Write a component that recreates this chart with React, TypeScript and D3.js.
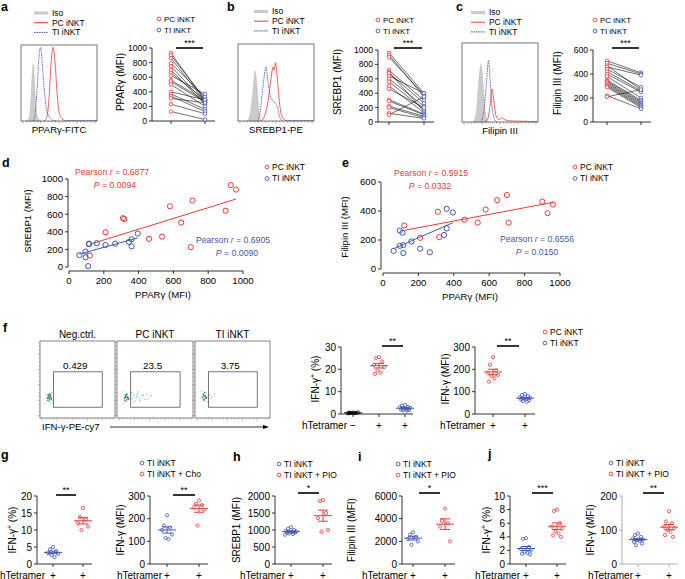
import React from 'react';
import * as d3 from 'd3';

const F = "'Liberation Sans', Arial, Helvetica, sans-serif";
const RED = '#ee3a34';
const BLUE = '#4257b8';
const GREY = '#cbcbcb';

type Pt = [number, number];

// ---------- histograms (position in px-units of box, % of mode) ----------
const histA_iso: Pt[] = [[5, 0], [8, 4], [10, 30], [11.5, 68], [12.5, 75], [13.5, 50], [15, 18], [17, 4], [20, 0]];
const histA_ti: Pt[] = [[12, 0], [14, 8], [16, 40], [18, 85], [19.5, 97], [21, 80], [23, 45], [25, 20], [28, 6], [32, 1], [36, 0]];
const histA_pc: Pt[] = [[23, 0], [26, 6], [28, 30], [30, 75], [32, 97], [34, 78], [36, 38], [38, 12], [41, 3], [45, 0]];
const histB_iso: Pt[] = [[9, 0], [12, 8], [15, 40], [17, 65], [19, 45], [21, 12], [23, 0]];
const histB_ti: Pt[] = [[19, 0], [22, 10], [25, 45], [28, 70], [30, 50], [33, 30], [36, 25], [39, 20], [41, 8], [44, 0]];
const histB_pc: Pt[] = [[23, 0], [27, 8], [30, 25], [33, 55], [35, 70], [36, 66], [37.5, 76], [39, 60], [41, 30], [43, 10], [46, 2], [50, 0]];
const histC_iso: Pt[] = [[11, 0], [14, 10], [17, 55], [19, 73], [21, 50], [23, 15], [26, 0]];
const histC_ti: Pt[] = [[19, 0], [22, 15], [24.5, 50], [26.5, 78], [28, 55], [30, 20], [32, 5], [35, 0]];
const histC_pc: Pt[] = [[23, 0], [26, 5], [28, 20], [30, 42], [32, 25], [34, 8], [37, 3], [40, 5], [43, 3], [47, 1.5], [60, 1], [74, 0.5]];

// ---------- paired scatter a-c ----------
const aPC = [930, 900, 860, 790, 750, 700, 660, 620, 560, 540, 500, 400, 370, 340, 310, 230, 130];
const aTI = [280, 300, 270, 330, 250, 230, 290, 370, 280, 260, 200, 290, 160, 130, 250, 100, 20];
const bPC = [960, 930, 900, 720, 690, 680, 640, 600, 560, 500, 460, 310, 290, 220, 200, 120, 100];
const bTI = [400, 350, 380, 300, 150, 260, 400, 220, 170, 130, 200, 110, 100, 80, 60, 50, 350];
const cPC = [510, 490, 470, 460, 440, 420, 400, 380, 350, 340, 330, 320, 310, 300, 290, 220, 210];
const cTI = [410, 400, 270, 390, 290, 260, 250, 200, 180, 170, 160, 150, 140, 130, 120, 110, 270];

// ---------- correlations d, e ----------
const pcPPARg = [120, 210, 310, 318, 460, 535, 580, 645, 700, 710, 900, 930, 960];
const pcSREBP1 = [130, 395, 555, 545, 320, 345, 690, 505, 225, 755, 640, 930, 880];
const pcFilipin = [300, 215, 395, 220, 340, 320, 410, 475, 510, 320, 465, 385, 445];
const tiPPARg = [60, 95, 95, 110, 115, 115, 160, 210, 265, 345, 360, 360, 395];
const tiSREBP1 = [135, 110, 175, 10, 265, 260, 270, 250, 265, 285, 315, 235, 380];
const tiFilipin = [125, 265, 160, 250, 165, 110, 190, 140, 115, 235, 415, 280, 390];

// ---------- flow plots f ----------
const flowNegCore: Pt[] = [[10, 26], [12, 28], [13, 24], [11, 30], [14, 27], [12, 22], [13, 31], [15, 25], [10, 23], [11, 27], [14, 30], [12, 25]];
const flowNegSpread: Pt[] = [[8, 20], [16, 33], [9, 31], [17, 22], [15, 19]];
const flowPCCore: Pt[] = [[10, 26], [12, 28], [13, 24], [11, 30], [14, 27], [12, 22], [13, 31], [15, 25], [10, 23], [11, 27]];
const flowPCSpread: Pt[] = [[18, 28], [20, 25], [22, 30], [25, 27], [27, 32], [30, 26], [33, 29], [36, 24], [39, 31], [42, 27], [45, 29], [24, 22], [28, 34], [35, 30], [19, 33], [21, 21], [31, 23], [26, 29], [17, 24], [40, 24], [8, 34], [9, 19]];
const flowTICore: Pt[] = [[10, 27], [12, 29], [13, 25], [11, 31], [14, 28], [12, 23], [13, 33], [15, 26], [11, 24]];
const flowTISpread: Pt[] = [[17, 27], [19, 30], [21, 25], [23, 28], [26, 31], [9, 35], [16, 21]];
const flowTitles = ['Neg.ctrl.', 'PC iNKT', 'TI iNKT'];
const flowPercents = ['0.429', '23.5', '3.75'];

// ---------- dot plots f-j ----------
const fPctNeg = [0.6, 0.4, 0.5, 0.3, 0.7, 0.5, 0.4, 0.6];
const fPctPC = [25.5, 25.0, 23.5, 22.0, 21.0, 19.5, 18.5, 18.0];
const fPctTI = [4.0, 3.8, 3.2, 3.0, 2.7, 2.5, 2.2, 2.0, 1.8, 1.6, 1.5];
const fMfiPC = [255, 220, 195, 185, 175, 170, 160, 145];
const fMfiTI = [90, 85, 80, 75, 72, 70, 68, 65, 62, 58, 55];
const gPctTI = [5.0, 4.3, 3.8, 3.2, 3.0, 2.6, 2.0];
const gPctCho = [16.5, 13.8, 13.0, 12.0, 11.0, 10.0];
const gMfiTI = [215, 170, 160, 150, 130, 115, 110];
const gMfiCho = [280, 265, 260, 250, 240, 170];
const hTI = [1080, 1040, 1000, 980, 960, 950, 940, 930, 920, 900, 880, 860];
const hPIO = [1880, 1850, 1500, 1350, 1000, 950];
const iTI = [2800, 2600, 2400, 2200, 2000, 1700];
const iPIO = [4900, 3800, 3600, 3300, 2000];
const jPctTI = [3.8, 3.7, 2.5, 2.2, 2.0, 1.8, 1.6, 1.5, 1.4];
const jPctPIO = [8.0, 7.8, 6.0, 5.5, 5.2, 4.8, 4.5, 4.2, 4.0];
const jMfiTI = [90, 85, 80, 75, 72, 70, 68, 65, 60, 55];
const jMfiPIO = [155, 125, 120, 110, 105, 100, 95, 85, 80];

const SW = 0.8;

function YAxis({ x, scale, ticks, fs, color = '#000' }: any) {
  const [r0, r1] = scale.range();
  return (
    <g>
      <line x1={x} x2={x} y1={r0} y2={r1} stroke={color} strokeWidth={SW} />
      {ticks.map((t: number) => (
        <g key={t}>
          <line x1={x - 3} x2={x} y1={scale(t)} y2={scale(t)} stroke={color} strokeWidth={SW} />
          <text x={x - 5} y={scale(t)} dy="0.35em" textAnchor="end" fontSize={fs}>{t}</text>
        </g>
      ))}
    </g>
  );
}

function RotLabel({ x, y, fs, children }: any) {
  return (
    <text transform={`translate(${x},${y}) rotate(-90)`} textAnchor="middle" dy="0.35em" fontSize={fs}>{children}</text>
  );
}

function Legend({ x, y, items, fs = 8.5, dy = 11 }: any) {
  return (
    <g>
      {items.map((it: any, i: number) => (
        <g key={i}>
          <circle cx={x} cy={y + i * dy} r={1.9} fill="none" stroke={it.color} strokeWidth={0.9} />
          <text x={x + 5} y={y + i * dy} dy="0.35em" fontSize={fs}>{it.label}</text>
        </g>
      ))}
    </g>
  );
}

function Sig({ x1, x2, y, stars }: any) {
  return (
    <g>
      <line x1={x1} x2={x2} y1={y} y2={y} stroke="#000" strokeWidth={1.6} />
      <text x={(x1 + x2) / 2} y={y - 2} textAnchor="middle" fontSize={9}>{stars}</text>
    </g>
  );
}

function Hist({ x0, y0, w, h, iso, pc, ti, label, leg }: any) {
  const x = d3.scaleLinear().domain([0, w]).range([x0, x0 + w]);
  const y = d3.scaleLinear().domain([0, 100]).range([y0 + h, y0]);
  const line = d3.line<Pt>().x(d => x(d[0])).y(d => y(d[1])).curve(d3.curveMonotoneX);
  const area = d3.area<Pt>().x(d => x(d[0])).y0(y(0)).y1(d => y(d[1])).curve(d3.curveMonotoneX);
  const minor = d3.range(2, w, 3.6);
  return (
    <g>
      <path d={area(iso) || ''} fill={GREY} stroke="#bbb" strokeWidth={0.5} />
      <path d={line(pc) || ''} fill="none" stroke={RED} strokeWidth={0.8} />
      <path d={line(ti) || ''} fill="none" stroke={BLUE} strokeWidth={0.8} strokeDasharray="1.6,0.8" />
      <line x1={x(Math.max(...pc.map((d: Pt) => d[0])))} x2={x0 + w} y1={y0 + h - 0.5} y2={y0 + h - 0.5} stroke={BLUE} strokeWidth={0.6} />
      <rect x={x0} y={y0} width={w} height={h} fill="none" stroke="#555" strokeWidth={0.8} />
      {minor.map((m, i) => (
        <line key={i} x1={x(m)} x2={x(m)} y1={y0 + h} y2={y0 + h + (i % 5 === 0 ? 2.5 : 1.5)} stroke="#555" strokeWidth={0.5} />
      ))}
      <text x={x0 + w / 2} y={y0 + h + 9} dy="0.35em" textAnchor="middle" fontSize={9.6}>{label}</text>
      <g>
        <rect x={leg.x} y={leg.y - 1.6} width={14} height={3.2} fill={GREY} />
        <text x={leg.x + 18} y={leg.y} dy="0.35em" fontSize={8.4}>Iso</text>
        <line x1={leg.x} x2={leg.x + 14} y1={leg.y + leg.dy} y2={leg.y + leg.dy} stroke={RED} strokeWidth={1} />
        <text x={leg.x + 18} y={leg.y + leg.dy} dy="0.35em" fontSize={8.4}>PC iNKT</text>
        <line x1={leg.x} x2={leg.x + 14} y1={leg.y + 2 * leg.dy} y2={leg.y + 2 * leg.dy} stroke={BLUE} strokeWidth={1} strokeDasharray="1.6,0.8" />
        <text x={leg.x + 18} y={leg.y + 2 * leg.dy} dy="0.35em" fontSize={8.4}>TI iNKT</text>
      </g>
    </g>
  );
}

function Paired({ ax, yTop, yBot, max, ticks, xPC, xTI, pc, ti, label, labelX, labelY, sigY, legX, legY }: any) {
  const y = d3.scaleLinear().domain([0, max]).range([yBot, yTop]);
  return (
    <g>
      <YAxis x={ax} scale={y} ticks={ticks} fs={8.6} />
      <line x1={ax} x2={xTI + 10} y1={yBot} y2={yBot} stroke="#000" strokeWidth={SW} />
      {[xPC, xTI].map(cx => <line key={cx} x1={cx} x2={cx} y1={yBot} y2={yBot + 3} stroke="#000" strokeWidth={SW} />)}
      {pc.map((v: number, i: number) => (
        <line key={i} x1={xPC} y1={y(v)} x2={xTI} y2={y(ti[i])} stroke="#111" strokeWidth={0.6} />
      ))}
      {pc.map((v: number, i: number) => <circle key={'p' + i} cx={xPC} cy={y(v)} r={1.8} fill="#fff" stroke={RED} strokeWidth={0.8} />)}
      {ti.map((v: number, i: number) => <circle key={'t' + i} cx={xTI} cy={y(v)} r={1.8} fill="#fff" stroke={BLUE} strokeWidth={0.8} />)}
      <Sig x1={xPC + 5} x2={xTI - 2} y={sigY} stars="***" />
      <Legend x={legX} y={legY} items={[{ color: RED, label: 'PC iNKT' }, { color: BLUE, label: 'TI iNKT' }]} fs={8} />
      <RotLabel x={labelX} y={labelY} fs={10}>{label}</RotLabel>
    </g>
  );
}

function regress(xs: number[], ys: number[]) {
  const mx = d3.mean(xs) as number;
  const my = d3.mean(ys) as number;
  const sxy = d3.sum(xs, (v, i) => (v - mx) * (ys[i] - my));
  const sxx = d3.sum(xs, v => (v - mx) ** 2);
  const b = sxy / sxx;
  return (v: number) => my + b * (v - mx);
}

function Corr({ ax, axY, xL, xR, yTop, yBot, ymax, yTicks, pcY, tiY, ylabel, ylabelX, ylabelY, xlabelX, xlabelY, tRed, tBlue, legX, legY }: any) {
  const x = d3.scaleLinear().domain([0, 1000]).range([xL, xR]);
  const y = d3.scaleLinear().domain([0, ymax]).range([yBot, yTop]);
  const fPC = regress(pcPPARg, pcY);
  const fTI = regress(tiPPARg, tiY);
  const pcMin = d3.min(pcPPARg) as number, pcMax = d3.max(pcPPARg) as number;
  const tiMin = d3.min(tiPPARg) as number, tiMax = d3.max(tiPPARg) as number;
  const xt = [0, 200, 400, 600, 800, 1000];
  return (
    <g>
      <YAxis x={ax} scale={y} ticks={yTicks} fs={9.6} />
      <line x1={xL} x2={xR} y1={axY} y2={axY} stroke="#000" strokeWidth={SW} />
      {xt.map(t => (
        <g key={t}>
          <line x1={x(t)} x2={x(t)} y1={axY} y2={axY + 3} stroke="#000" strokeWidth={SW} />
          <text x={x(t)} y={axY + 10} dy="0.35em" textAnchor="middle" fontSize={9.6}>{t}</text>
        </g>
      ))}
      <line x1={x(pcMin)} x2={x(pcMax)} y1={y(fPC(pcMin))} y2={y(fPC(pcMax))} stroke={RED} strokeWidth={1} />
      <line x1={x(tiMin)} x2={x(tiMax)} y1={y(fTI(tiMin))} y2={y(fTI(tiMax))} stroke={BLUE} strokeWidth={1} />
      {pcPPARg.map((v, i) => <circle key={'p' + i} cx={x(v)} cy={y(pcY[i])} r={2.6} fill="none" stroke={RED} strokeWidth={1} />)}
      {tiPPARg.map((v, i) => <circle key={'t' + i} cx={x(v)} cy={y(tiY[i])} r={2.6} fill="none" stroke={BLUE} strokeWidth={1} />)}
      <RotLabel x={ylabelX} y={ylabelY} fs={9.6}>{ylabel}</RotLabel>
      <text x={xlabelX} y={xlabelY} dy="0.35em" textAnchor="middle" fontSize={9.6}>PPARγ (MFI)</text>
      {[tRed, tBlue].map((t: any, i: number) => (
        <g key={i} fill={i === 0 ? RED : BLUE} fontSize={8.7}>
          <text x={t.x} y={t.y} dy="0.35em" textAnchor="middle">Pearson <tspan fontStyle="italic">r</tspan> = {t.r}</text>
          <text x={t.px} y={t.y + 12.5} dy="0.35em" textAnchor="middle"><tspan fontStyle="italic">P</tspan> = {t.p}</text>
        </g>
      ))}
      <Legend x={legX} y={legY} items={[{ color: RED, label: 'PC iNKT' }, { color: BLUE, label: 'TI iNKT' }]} fs={8.5} dy={11.5} />
    </g>
  );
}

function Flow({ x0, y0, w, h, title, pct, core, spread }: any) {
  const x = d3.scaleLinear().domain([0, 100]).range([x0, x0 + w]);
  const y = d3.scaleLinear().domain([0, 100]).range([y0 + h, y0]);
  const minor = d3.range(3, 100, 5);
  return (
    <g>
      <rect x={x0} y={y0} width={w} height={h} fill="none" stroke="#666" strokeWidth={0.8} />
      {minor.map((m, i) => (
        <g key={i}>
          <line x1={x(m)} x2={x(m)} y1={y0 + h} y2={y0 + h + (i % 4 === 0 ? 2.5 : 1.3)} stroke="#666" strokeWidth={0.5} />
          <line x1={x0} x2={x0 - (i % 4 === 0 ? 2.5 : 1.3)} y1={y(m)} y2={y(m)} stroke="#666" strokeWidth={0.5} />
        </g>
      ))}
      {spread.map((d: Pt, i: number) => <circle key={'s' + i} cx={x(d[0])} cy={y(d[1])} r={0.55} fill="#7d8fdc" />)}
      {core.map((d: Pt, i: number) => <circle key={'c' + i} cx={x(d[0])} cy={y(d[1])} r={0.9} fill={i % 3 === 0 ? '#2f9c4c' : i % 3 === 1 ? '#3d57c4' : '#56b06a'} />)}
      <rect x={x(18)} y={y(60)} width={x(83) - x(18)} height={y(14) - y(60)} fill="none" stroke="#555" strokeWidth={0.8} />
      <text x={x(47)} y={y(68)} dy="0.35em" textAnchor="middle" fontSize={9.9}>{pct}</text>
      <text x={x0 + w / 2} y={y0 - 7} dy="0.35em" textAnchor="middle" fontSize={10}>{title}</text>
    </g>
  );
}

const jit = [0, -3, 3, -5, 5, -1.5, 1.5, -4, 4, -2, 2, -6, 6];

function DotPlot({ ax, yTop, yBot, max, ticks, groups, xEnd, label, labelX, labelY, sig, hx, hy, axisColor = '#000' }: any) {
  const y = d3.scaleLinear().domain([0, max]).range([yBot, yTop]);
  return (
    <g>
      <YAxis x={ax} scale={y} ticks={ticks} fs={10} color={axisColor} />
      <line x1={ax} x2={xEnd} y1={yBot} y2={yBot} stroke={axisColor} strokeWidth={SW} />
      {groups.map((g: any, gi: number) => {
        const m = d3.mean(g.vals) as number;
        const sem = (d3.deviation(g.vals) as number) / Math.sqrt(g.vals.length);
        return (
          <g key={gi}>
            <line x1={g.x} x2={g.x} y1={yBot} y2={yBot + 3} stroke={axisColor} strokeWidth={SW} />
            <text x={g.x} y={hy} dy="0.35em" textAnchor="middle" fontSize={10}>{g.sign}</text>
            {g.vals.map((v: number, i: number) => (
              <circle key={i} cx={g.x + jit[i % jit.length]} cy={y(v)} r={1.6} fill="none" stroke={g.color} strokeWidth={0.8} />
            ))}
            <line x1={g.x - 9} x2={g.x + 9} y1={y(m)} y2={y(m)} stroke={g.color} strokeWidth={1} />
            <line x1={g.x} x2={g.x} y1={y(m - sem)} y2={y(m + sem)} stroke={g.color} strokeWidth={1} />
            <line x1={g.x - 5} x2={g.x + 5} y1={y(m - sem)} y2={y(m - sem)} stroke={g.color} strokeWidth={1} />
            <line x1={g.x - 5} x2={g.x + 5} y1={y(m + sem)} y2={y(m + sem)} stroke={g.color} strokeWidth={1} />
          </g>
        );
      })}
      <text x={hx} y={hy} dy="0.35em" textAnchor="end" fontSize={10}>hTetramer</text>
      {sig && <Sig x1={sig.x1} x2={sig.x2} y={sig.y} stars={sig.stars} />}
      <RotLabel x={labelX} y={labelY} fs={10}>{label}</RotLabel>
    </g>
  );
}

const pctLabel = <>IFN-γ<tspan dy="-3.5" fontSize="7">+</tspan><tspan dy="3.5"> (%)</tspan></>;

function PanelLetter({ x, y, l }: any) {
  return <text x={x} y={y} fontSize={12.5} fontWeight="bold">{l}</text>;
}

export default function App() {
  return (
    <svg width={685} height={579} style={{ position: 'absolute', left: 0, top: 0, background: '#fff' }} fontFamily={F}>
      <PanelLetter x={1} y={10.5} l="a" />
      <PanelLetter x={227} y={10.5} l="b" />
      <PanelLetter x={456} y={10.5} l="c" />
      <PanelLetter x={2} y={167} l="d" />
      <PanelLetter x={342} y={167} l="e" />
      <PanelLetter x={3} y={332} l="f" />
      <PanelLetter x={1} y={459} l="g" />
      <PanelLetter x={233} y={461} l="h" />
      <PanelLetter x={358} y={461} l="i" />
      <PanelLetter x={488} y={458} l="j" />

      <Hist x0={21} y0={45} w={76} h={76} iso={histA_iso} pc={histA_pc} ti={histA_ti} label="PPARγ-FITC" leg={{ x: 34, y: 13, dy: 9.7 }} />
      <Hist x0={238} y0={44} w={76} h={77} iso={histB_iso} pc={histB_pc} ti={histB_ti} label="SREBP1-PE" leg={{ x: 254, y: 11.5, dy: 9.7 }} />
      <Hist x0={462} y0={43} w={76} h={79} iso={histC_iso} pc={histC_pc} ti={histC_ti} label="Filipin III" leg={{ x: 471, y: 12.5, dy: 9.7 }} />

      <Paired ax={152} yTop={48} yBot={121} max={1000} ticks={[0, 200, 400, 600, 800, 1000]} xPC={171} xTI={205} pc={aPC} ti={aTI} label="PPARγ (MFI)" labelX={120} labelY={82} sigY={48} legX={159} legY={19} />
      <Paired ax={378} yTop={50} yBot={122} max={1000} ticks={[0, 200, 400, 600, 800, 1000]} xPC={389} xTI={424} pc={bPC} ti={bTI} label="SREBP1 (MFI)" labelX={337} labelY={82} sigY={48} legX={378} legY={20} />
      <Paired ax={593} yTop={50} yBot={122} max={600} ticks={[0, 200, 400, 600]} xPC={607} xTI={641} pc={cPC} ti={cTI} label="Filipin III (MFI)" labelX={557} labelY={83} sigY={48} legX={595} legY={20} />

      <Corr ax={68} axY={271} xL={69} xR={243} yTop={179} yBot={267} ymax={1000} yTicks={[0, 200, 400, 600, 800, 1000]}
        pcY={pcSREBP1} tiY={tiSREBP1} ylabel="SREBP1 (MFI)" ylabelX={28} ylabelY={221} xlabelX={163} xlabelY={295}
        tRed={{ x: 112, px: 115, y: 172, r: '0.6877', p: '0.0094' }} tBlue={{ x: 233, px: 237, y: 240, r: '0.6905', p: '0.0090' }} legX={267} legY={167} />
      <Corr ax={381} axY={273} xL={383} xR={560} yTop={182} yBot={269} ymax={600} yTicks={[0, 200, 400, 600]}
        pcY={pcFilipin} tiY={tiFilipin} ylabel="Filipin III (MFI)" ylabelX={345} ylabelY={227} xlabelX={470} xlabelY={297}
        tRed={{ x: 431, px: 430, y: 173, r: '0.5915', p: '0.0332' }} tBlue={{ x: 537, px: 537, y: 239, r: '0.6556', p: '0.0150' }} legX={575} legY={167} />

      <Flow x0={40} y0={341} w={75} h={77} title={flowTitles[0]} pct={flowPercents[0]} core={flowNegCore} spread={flowNegSpread} />
      <Flow x0={117} y0={341} w={76} h={77} title={flowTitles[1]} pct={flowPercents[1]} core={flowPCCore} spread={flowPCSpread} />
      <Flow x0={195} y0={341} w={75} h={77} title={flowTitles[2]} pct={flowPercents[2]} core={flowTICore} spread={flowTISpread} />
      <text x={42} y={427} dy="0.35em" fontSize={9.6}>IFN-γ-PE-cy7</text>
      <line x1={110} x2={264} y1={427} y2={427} stroke="#000" strokeWidth={0.8} />
      <path d="M263,425 L269,427 L263,429 Z" fill="#000" />

      <DotPlot ax={341} yTop={347} yBot={414} max={30} ticks={[0, 10, 20, 30]} xEnd={413}
        groups={[{ x: 353, vals: fPctNeg, color: '#000', sign: '−' }, { x: 379, vals: fPctPC, color: RED, sign: '+' }, { x: 405, vals: fPctTI, color: BLUE, sign: '+' }]}
        label={pctLabel} labelX={315} labelY={379} sig={{ x1: 382, x2: 403, y: 346, stars: '**' }} hx={347} hy={425} />
      <DotPlot ax={475} yTop={347} yBot={414} max={300} ticks={[0, 100, 200, 300]} xEnd={535}
        groups={[{ x: 493, vals: fMfiPC, color: RED, sign: '+' }, { x: 525, vals: fMfiTI, color: BLUE, sign: '+' }]}
        label="IFN-γ (MFI)" labelX={445} labelY={379} sig={{ x1: 497, x2: 519, y: 346, stars: '**' }} hx={485} hy={425} />
      <Legend x={545} y={332} items={[{ color: RED, label: 'PC iNKT' }, { color: BLUE, label: 'TI iNKT' }]} fs={8.5} />

      <DotPlot ax={37} yTop={496} yBot={564} max={20} ticks={[0, 5, 10, 15, 20]} xEnd={92}
        groups={[{ x: 53, vals: gPctTI, color: BLUE, sign: '+' }, { x: 83, vals: gPctCho, color: RED, sign: '+' }]}
        label={pctLabel} labelX={12} labelY={530} sig={{ x1: 56, x2: 76, y: 495, stars: '**' }} hx={45} hy={575} />
      <DotPlot ax={150} yTop={496} yBot={564} max={300} ticks={[0, 100, 200, 300]} xEnd={208}
        groups={[{ x: 167, vals: gMfiTI, color: BLUE, sign: '+' }, { x: 199, vals: gMfiCho, color: RED, sign: '+' }]}
        label="IFN-γ (MFI)" labelX={120} labelY={530} sig={{ x1: 173, x2: 195, y: 495, stars: '**' }} hx={162} hy={575} />
      <Legend x={142} y={463} items={[{ color: BLUE, label: 'TI iNKT' }, { color: RED, label: 'TI iNKT + Cho' }]} fs={8.5} />

      <DotPlot ax={275} yTop={496} yBot={564} max={2000} ticks={[0, 500, 1000, 1500, 2000]} xEnd={332}
        groups={[{ x: 291, vals: hTI, color: BLUE, sign: '+' }, { x: 323, vals: hPIO, color: RED, sign: '+' }]}
        label="SREBP1 (MFI)" labelX={236} labelY={530} sig={{ x1: 298, x2: 319, y: 493, stars: '*' }} hx={285} hy={575} />
      <Legend x={279} y={464} items={[{ color: BLUE, label: 'TI iNKT' }, { color: RED, label: 'TI iNKT + PIO' }]} fs={8.5} />

      <DotPlot ax={402} yTop={496} yBot={564} max={6000} ticks={[0, 2000, 4000, 6000]} xEnd={455}
        groups={[{ x: 413, vals: iTI, color: BLUE, sign: '+' }, { x: 445, vals: iPIO, color: RED, sign: '+' }]}
        label="Filipin III (MFI)" labelX={351} labelY={530} sig={{ x1: 419, x2: 440, y: 493, stars: '*' }} hx={407} hy={575} />
      <Legend x={398} y={464} items={[{ color: BLUE, label: 'TI iNKT' }, { color: RED, label: 'TI iNKT + PIO' }]} fs={8.5} />

      <DotPlot ax={510} yTop={496} yBot={564} max={10} ticks={[0, 2, 4, 6, 8, 10]} xEnd={566}
        groups={[{ x: 526, vals: jPctTI, color: BLUE, sign: '+' }, { x: 557, vals: jPctPIO, color: RED, sign: '+' }]}
        label={pctLabel} labelX={486} labelY={530} sig={{ x1: 532, x2: 553, y: 493, stars: '***' }} hx={520} hy={575} />
      <DotPlot ax={622} yTop={496} yBot={564} max={200} ticks={[0, 100, 200]} xEnd={678} axisColor="#999"
        groups={[{ x: 638, vals: jMfiTI, color: BLUE, sign: '+' }, { x: 669, vals: jMfiPIO, color: RED, sign: '+' }]}
        label="IFN-γ (MFI)" labelX={590} labelY={530} sig={{ x1: 643, x2: 664, y: 493, stars: '**' }} hx={633} hy={575} />
      <Legend x={611} y={463} items={[{ color: BLUE, label: 'TI iNKT' }, { color: RED, label: 'TI iNKT + PIO' }]} fs={8.5} />
    </svg>
  );
}
